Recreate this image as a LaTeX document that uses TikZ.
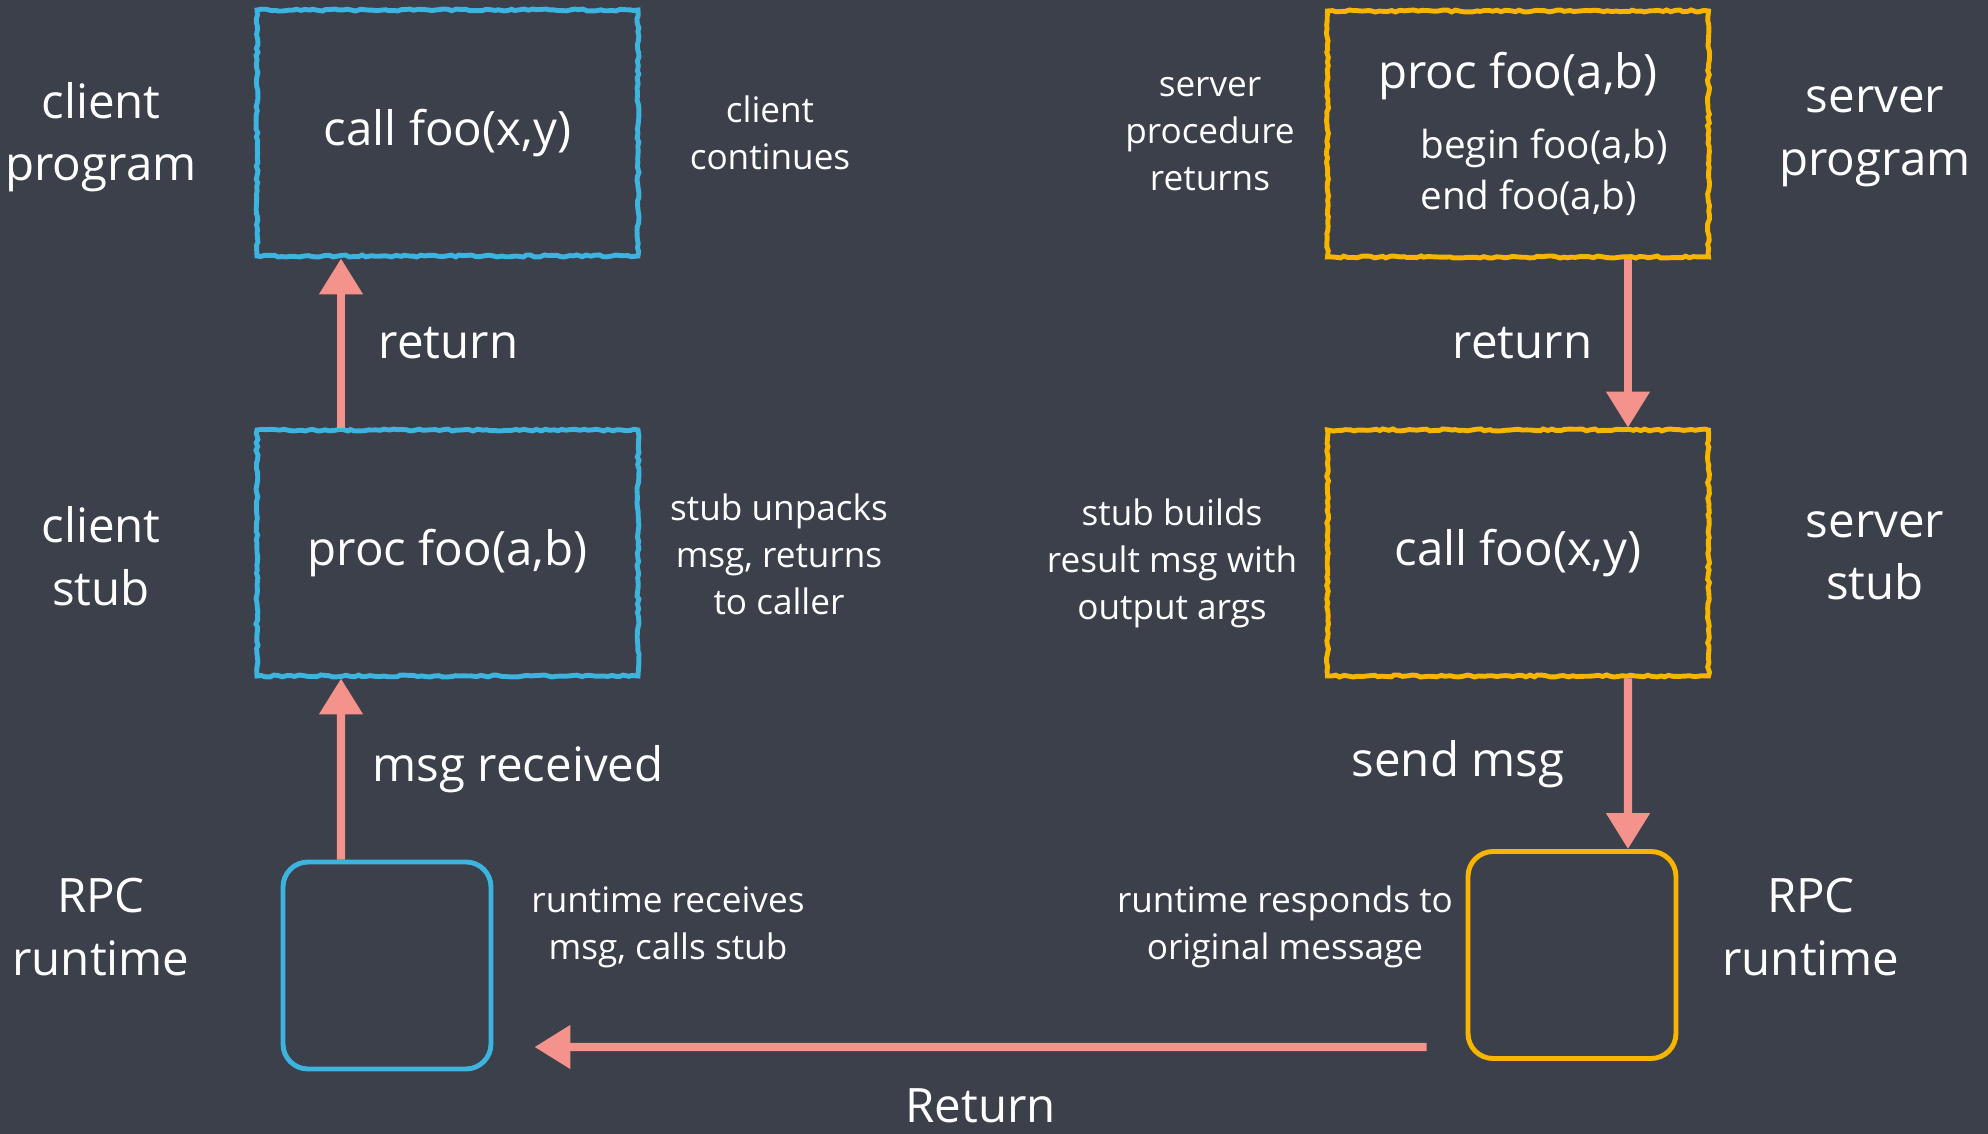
\documentclass[tikz,border=0pt]{standalone}
\usepackage{fontspec}
\setmainfont{Open Sans}
\usetikzlibrary{arrows.meta,decorations.pathmorphing}
\definecolor{board}{HTML}{3B404B}
\definecolor{chalkblue}{HTML}{3DB4E0}
\definecolor{chalkyellow}{HTML}{F7B500}
\definecolor{chalkpink}{HTML}{F4938C}

\begin{document}
\begin{tikzpicture}
    \tikzstyle{big}=[text=white,align=center,font=\fontsize{13.5}{17.8}\selectfont]
    \tikzstyle{mid}=[text=white,align=left,font=\fontsize{11}{14.5}\selectfont]
    \tikzstyle{note}=[text=white,align=center,font=\fontsize{10}{13.4}\selectfont]
    \tikzstyle{chalk}=[line width=1.4pt,decorate,decoration={random steps,segment length=1.2pt,amplitude=0.3pt}]
    \tikzstyle{proc}=[big,chalk,minimum width=3.81cm,minimum height=2.46cm]
    \tikzstyle{runtime}=[line width=1.4pt,rounded corners=2.5mm,minimum width=2.08cm,minimum height=2.07cm]
    \tikzstyle{msg}=[draw=chalkpink,line width=2.3pt,>={Triangle[width=4.2mm,length=3.6mm]}]

    \fill[board] (0,0) rectangle (19.88,11.34);
    \useasboundingbox (0,0) rectangle (19.88,11.34);

    % client side
    \node[proc,draw=chalkblue] at (4.475,10.01) (cprog) {call foo(x,y)};
    \node[proc,draw=chalkblue] at (4.475,5.81) (cstub) {proc foo(a,b)};
    \node[runtime,draw=chalkblue] at (3.87,1.685) (crt) {};

    % server side
    \node[proc,draw=chalkyellow] at (15.18,10.0) (sprog) {};
    \node[big] at (15.18,10.58) (sproc) {proc foo(a,b)};
    \node[mid,anchor=west] at (14.08,9.62) (sbody) {begin foo(a,b)\\end foo(a,b)};
    \node[proc,draw=chalkyellow] at (15.18,5.81) (sstub) {call foo(x,y)};
    \node[runtime,draw=chalkyellow] at (15.72,1.79) (srt) {};

    \node[big] at (1.01,9.97) (cprogl) {client\\program};
    \node[big] at (1.01,5.78) (cstubl) {client\\stub};
    \node[big] at (1.01,2.07) (crtl) {RPC\\runtime};
    \node[big] at (18.75,9.97) (sprogl) {server\\program};
    \node[big] at (18.75,5.78) (sstubl) {server\\stub};
    \node[big] at (18.11,2.07) (srtl) {RPC\\runtime};

    \node[note] at (7.70,10.01) (cont) {client\\continues};
    \node[note] at (7.79,5.80) (unpack) {stub unpacks\\msg, returns\\to caller};
    \node[note] at (6.68,2.07) (recv) {runtime receives\\msg, calls stub};
    \node[note] at (12.10,10.0) (sret) {server\\procedure\\returns};
    \node[note] at (11.72,5.71) (build) {stub builds\\result msg with\\output args};
    \node[note] at (12.85,2.07) (resp) {runtime responds to\\original message};

    \draw[msg,->] ([xshift=-4.6mm]crt.north) -- ([xshift=-10.65mm]cstub.south) node [big,midway,right=1.6mm] {msg received};
    \draw[msg,->] ([xshift=-10.65mm]cstub.north) -- ([xshift=-10.65mm]cprog.south) node [big,midway,right=2.2mm] {return};
    \draw[msg,->] ([xshift=11mm]sprog.south) -- ([xshift=11mm]sstub.north) node [big,midway,left=2mm] {return};
    \draw[msg,->] ([xshift=11mm]sstub.south) -- ([xshift=5.6mm]srt.north) node [big,midway,left=4.8mm] {send msg};
    \draw[msg,->] ([xshift=-3.9mm,yshift=-9.2mm]srt.west) -- ([xshift=4.1mm,yshift=-8.15mm]crt.east) node [big,midway,below=2.6mm] {Return};
\end{tikzpicture}
\end{document}
